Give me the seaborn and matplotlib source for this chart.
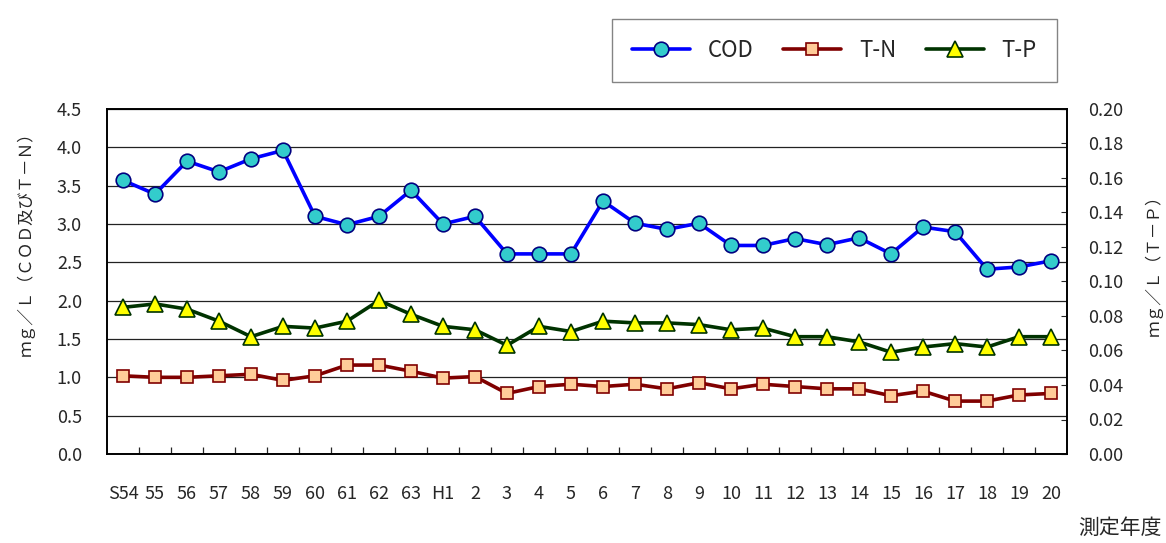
import numpy as np
import pandas as pd
import seaborn as sns
import matplotlib.pyplot as plt
from matplotlib.ticker import FixedLocator

# fiscal years (Showa 54 - Heisei 20)
years = ["S54", "55", "56", "57", "58", "59", "60", "61", "62", "63",
         "H1", "2", "3", "4", "5", "6", "7", "8", "9", "10",
         "11", "12", "13", "14", "15", "16", "17", "18", "19", "20"]

cod = [3.57, 3.39, 3.82, 3.68, 3.85, 3.96, 3.10, 2.99, 3.10, 3.44,
       3.00, 3.10, 2.61, 2.61, 2.61, 3.30, 3.01, 2.93, 3.01, 2.72,
       2.72, 2.81, 2.73, 2.82, 2.61, 2.96, 2.90, 2.41, 2.44, 2.52]

tn = [1.02, 1.00, 1.00, 1.02, 1.04, 0.96, 1.02, 1.16, 1.16, 1.08,
      0.99, 1.01, 0.79, 0.88, 0.91, 0.88, 0.91, 0.85, 0.93, 0.85,
      0.91, 0.88, 0.85, 0.85, 0.76, 0.82, 0.69, 0.69, 0.77, 0.79]

tp = [0.085, 0.087, 0.084, 0.077, 0.068, 0.074, 0.073, 0.077, 0.089, 0.081,
      0.074, 0.072, 0.063, 0.074, 0.071, 0.077, 0.076, 0.076, 0.075, 0.072,
      0.073, 0.068, 0.068, 0.065, 0.059, 0.062, 0.064, 0.062, 0.068, 0.068]

df = pd.DataFrame({"idx": np.arange(len(years)), "year": years,
                   "COD": cod, "T-N": tn, "T-P": tp})

sns.set_style("white")
plt.rcParams['font.family'] = ['Noto Sans CJK JP', 'DejaVu Sans']

fig = plt.figure(figsize=(11.66, 5.43), dpi=100)
ax = fig.add_axes([107 / 1166, 1 - 454 / 543, 960 / 1166, 345 / 543])
ax2 = ax.twinx()

sns.lineplot(data=df, x="idx", y="COD", ax=ax, color="#0000FF", lw=2.6,
             marker="o", markersize=10.5, markerfacecolor="#33CCCC",
             markeredgecolor="#000080", markeredgewidth=1.2, label="COD",
             legend=False)
sns.lineplot(data=df, x="idx", y="T-N", ax=ax, color="#800000", lw=2.6,
             marker="s", markersize=8.5, markerfacecolor="#FFCC99",
             markeredgecolor="#800000", markeredgewidth=1.2, label="T-N",
             legend=False)
sns.lineplot(data=df, x="idx", y="T-P", ax=ax2, color="#003300", lw=2.6,
             marker="^", markersize=11, markerfacecolor="#FFFF00",
             markeredgecolor="#003300", markeredgewidth=1.2, label="T-P",
             legend=False)

# left axis
ax.set_ylim(0, 4.5)
ax.set_yticks(np.arange(0, 4.51, 0.5))
ax.set_yticklabels([f"{v:.1f}" for v in np.arange(0, 4.51, 0.5)], fontsize=13)
ax.yaxis.grid(True, color="#222222", lw=0.9)
ax.set_axisbelow(True)
ax.tick_params(axis="y", length=0, pad=18)

# right axis
ax2.set_ylim(0, 0.20)
ax2.set_yticks(np.arange(0, 0.201, 0.02))
ax2.set_yticklabels([f"{v:.2f}" for v in np.arange(0, 0.201, 0.02)], fontsize=13)
ax2.tick_params(axis="y", direction="in", length=4, pad=15)

# x axis: labels at category centres, ticks at category boundaries
ax.set_xlim(-0.5, len(years) - 0.5)
ax.set_xticks(df["idx"])
ax.set_xticklabels(years, fontsize=13)
ax.xaxis.set_minor_locator(FixedLocator(np.arange(0.5, len(years) - 1, 1)))
ax.tick_params(axis="x", which="major", length=0, pad=22)
ax.tick_params(axis="x", which="minor", direction="in", length=5, width=0.9, bottom=True)

for a in (ax, ax2):
    for s in a.spines.values():
        s.set_color("black")
        s.set_linewidth(1.2)
ax.set_xlabel("")
ax.set_ylabel("ｍｇ／Ｌ（ＣＯＤ及びＴ－Ｎ）", fontsize=12, va="center", ha="center")
ax.yaxis.set_label_coords(-0.085, 0.62)
ax2.set_ylabel("ｍｇ／Ｌ（Ｔ－Ｐ）", fontsize=12, rotation=90, va="center", ha="center")
ax2.yaxis.set_label_coords(1.09, 0.56)

fig.text(1120 / 1166, 1 - 528 / 543, "測定年度", fontsize=15, ha="center", va="center")

h1, l1 = ax.get_legend_handles_labels()
h2, l2 = ax2.get_legend_handles_labels()
leg = fig.legend(h1 + h2, l1 + l2, loc="lower left", ncol=3, mode="expand",
                 bbox_to_anchor=(612 / 1166, 1 - 82 / 543, 445 / 1166, 69 / 543),
                 borderaxespad=0, fancybox=False, handlelength=2.6,
                 borderpad=0.9, columnspacing=1.5, fontsize=16)
leg.get_frame().set_edgecolor("#666666")
leg.get_frame().set_linewidth(1.0)

fig.savefig("out.png", dpi=100)
